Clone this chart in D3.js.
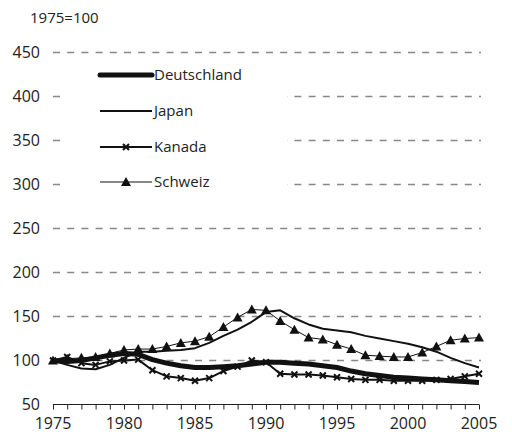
<!DOCTYPE html>
<html>
<head>
<meta charset="utf-8">
<script src="https://cdn.jsdelivr.net/npm/d3@7"></script>
<style>
  body { margin: 0; background: #fff; }
  text { font-family: "Open Sans", "Noto Sans", sans-serif; fill: #222; }
</style>
</head>
<body>
<div id="chart"></div>
<script>
var years = d3.range(1975, 2006);
var yTicks = [50, 100, 150, 200, 250, 300, 350, 400, 450];
var xTicks = [1975, 1980, 1985, 1990, 1995, 2000, 2005];

var deutschland = [100, 99, 100, 103, 106, 108, 107, 101, 97, 94, 92, 92, 93, 94, 96, 98, 98, 97, 96, 94, 92, 88, 85, 83, 81, 80, 79, 78, 77, 76, 75];
var japan = [100, 95, 91, 90, 95, 103, 110, 110, 111, 112, 114, 120, 128, 135, 144, 155, 157, 148, 141, 136, 134, 132, 128, 125, 122, 119, 115, 110, 103, 97, 92];
var kanada = [100, 104, 97, 95, 99, 100, 101, 89, 82, 80, 77, 80, 88, 93, 100, 98, 85, 84, 84, 83, 81, 79, 78, 78, 77, 77, 77, 78, 79, 82, 85];
var schweiz = [100, 102, 103, 104, 108, 112, 113, 113, 116, 120, 122, 127, 138, 149, 158, 157, 145, 135, 126, 124, 118, 113, 106, 105, 104, 104, 109, 116, 123, 125, 126];

var series = [
  { name: "Schweiz", values: schweiz, width: 1, marker: "tri" },
  { name: "Japan", values: japan, width: 2, marker: null },
  { name: "Kanada", values: kanada, width: 2, marker: "x" },
  { name: "Deutschland", values: deutschland, width: 5, marker: null }
];
var legendOrder = ["Deutschland", "Japan", "Kanada", "Schweiz"];

var width = 512, height = 443;
var x = d3.scaleLinear().domain([1975, 2005]).range([53, 479]);
var y = d3.scaleLinear().domain([50, 450]).range([404.5, 52.5]);

var svg = d3.select("#chart").append("svg")
  .attr("width", width)
  .attr("height", height);

// dashed grid
svg.append("g").selectAll("line")
  .data(yTicks.filter(function(d) { return d > 50; }))
  .enter().append("line")
  .attr("x1", x(1975)).attr("x2", x(2005) + 2)
  .attr("y1", function(d) { return y(d); })
  .attr("y2", function(d) { return y(d); })
  .attr("stroke", "#888")
  .attr("stroke-width", 1.3)
  .attr("stroke-dasharray", "7,7.2");

// y labels
svg.append("g").selectAll("text")
  .data(yTicks)
  .enter().append("text")
  .attr("x", 40)
  .attr("y", function(d) { return y(d); })
  .attr("dy", "0.35em")
  .attr("text-anchor", "end")
  .style("font-size", "16px")
  .text(function(d) { return d; });

svg.append("text")
  .attr("x", 30).attr("y", 23)
  .style("font-size", "15px")
  .text("1975=100");

// x axis
var xAxis = d3.axisBottom(x)
  .tickValues(years)
  .tickSize(5)
  .tickFormat("");
var gx = svg.append("g")
  .attr("transform", "translate(0," + y(50) + ")")
  .call(xAxis);
gx.select(".domain").attr("stroke", "#222").attr("d", "M" + x(1975) + ",0H" + x(2005));
gx.selectAll(".tick line").attr("stroke", "#222");

svg.append("g").selectAll("text")
  .data(xTicks)
  .enter().append("text")
  .attr("x", function(d) { return x(d); })
  .attr("y", 429)
  .attr("text-anchor", "middle")
  .style("font-size", "16px")
  .text(function(d) { return d; });

// legend box hides the grid
svg.append("rect")
  .attr("x", 62).attr("y", 62)
  .attr("width", 225).attr("height", 134)
  .attr("fill", "#fff");

var line = d3.line()
  .x(function(d, i) { return x(years[i]); })
  .y(function(d) { return y(d); });

function drawMarker(g, type, cx, cy) {
  if (type === "tri") {
    g.append("path")
      .attr("d", "M" + cx + "," + (cy - 5) + "L" + (cx + 5) + "," + (cy + 4) + "L" + (cx - 5) + "," + (cy + 4) + "Z")
      .attr("fill", "#111");
  } else if (type === "x") {
    g.append("path")
      .attr("d", "M" + (cx - 3) + "," + (cy - 3) + "L" + (cx + 3) + "," + (cy + 3) +
                 "M" + (cx - 3) + "," + (cy + 3) + "L" + (cx + 3) + "," + (cy - 3))
      .attr("stroke", "#111")
      .attr("stroke-width", 2);
  }
}

series.forEach(function(s) {
  var g = svg.append("g");
  g.append("path")
    .datum(s.values)
    .attr("d", line)
    .attr("fill", "none")
    .attr("stroke", "#111")
    .attr("stroke-width", s.width)
    .attr("stroke-linejoin", "round");
  if (s.marker) {
    s.values.forEach(function(v, i) {
      drawMarker(g, s.marker, x(years[i]), y(v));
    });
  }
});

// legend
var legY = [75, 111, 147, 182];
legendOrder.forEach(function(name, i) {
  var s = series.filter(function(d) { return d.name === name; })[0];
  var g = svg.append("g");
  g.append("line")
    .attr("x1", 100).attr("x2", 152)
    .attr("y1", legY[i]).attr("y2", legY[i])
    .attr("stroke", "#111")
    .attr("stroke-width", s.width)
    .attr("stroke-linecap", s.width > 3 ? "round" : "butt");
  if (s.marker) drawMarker(g, s.marker, 126, legY[i]);
  g.append("text")
    .attr("x", 154).attr("y", legY[i])
    .attr("dy", "0.35em")
    .style("font-size", "15px")
    .text(name);
});
</script>
</body>
</html>
